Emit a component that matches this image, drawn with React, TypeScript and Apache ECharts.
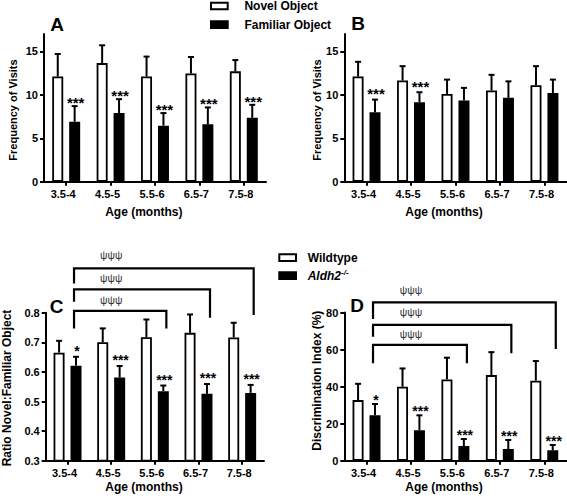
import React, { useEffect, useRef } from "react";
import * as echarts from "echarts";

const FONT = "'Liberation Sans', Arial, Helvetica, sans-serif";

const categories = ["3.5-4", "4.5-5", "5.5-6", "6.5-7", "7.5-8"];

// Panel A
const novelA = [12.1, 13.65, 12.1, 12.45, 12.7];
const novelAErr = [14.7, 15.7, 14.4, 14.35, 14.0];
const famA = [6.9, 7.9, 6.45, 6.6, 7.35];
const famAErr = [8.7, 9.5, 7.9, 8.55, 8.85];
const starsA = ["***", "***", "***", "***", "***"];

// Panel B
const novelB = [12.1, 11.65, 10.1, 10.5, 11.1];
const novelBErr = [13.8, 13.3, 11.75, 12.3, 13.3];
const famB = [8.0, 9.15, 9.35, 9.65, 10.2];
const famBErr = [9.45, 10.3, 10.8, 11.55, 11.75];
const starsB = ["***", "***", "", "", ""];

// Panel C
const wtC = [0.665, 0.7, 0.717, 0.732, 0.716];
const wtCErr = [0.705, 0.747, 0.777, 0.794, 0.766];
const koC = [0.621, 0.581, 0.535, 0.526, 0.529];
const koCErr = [0.651, 0.62, 0.554, 0.559, 0.556];
const starsC = ["*", "***", "***", "***", "***"];

// Panel D
const wtD = [32.7, 39.9, 43.9, 46.2, 43.2];
const wtDErr = [41.5, 49.8, 55.6, 58.6, 53.8];
const koD = [24.6, 16.5, 7.9, 6.3, 5.6];
const koDErr = [30.6, 24.5, 11.7, 11.2, 8.5];
const starsD = ["*", "***", "***", "***", "***"];

// Brackets (from first category to bracketEnd)
const bracketEnd = [4, 3, 2];
const bracketTopC = [0.95, 0.879, 0.806];
const bracketLeftDropC = [0.899, 0.837, 0.747];
const bracketRightDropC = [0.792, 0.783, 0.747];
const psiYC = [0.995, 0.916, 0.843];
const bracketTopD = [85.5, 73.3, 62.5];
const bracketLeftDropD = [76.5, 66.9, 52.6];
const bracketRightDropD = [60.3, 58.0, 52.6];
const psiYD = [92.1, 80.4, 68.2];

const BAR_W = 11;
const BAR_GAP = "54%";
const OFF = 8.45;

function barSeries(g: number, name: string, data: number[], color: string) {
  return {
    type: "bar",
    name,
    xAxisIndex: g,
    yAxisIndex: g,
    data,
    barWidth: BAR_W,
    barGap: BAR_GAP,
    silent: true,
    itemStyle: { color, borderColor: "#000", borderWidth: 1.8 },
  };
}

function errSeries(
  g: number,
  vals: number[],
  errs: number[],
  offset: number,
  stars: string[] | null,
  starOffset: number,
  starSize: number
) {
  return {
    type: "custom",
    name: "err" + g + offset,
    xAxisIndex: g,
    yAxisIndex: g,
    silent: true,
    clip: false,
    z: 3,
    data: vals.map((v, i) => [i, v, errs[i]]),
    encode: { x: 0, y: [1, 2] },
    renderItem: (params: any, api: any) => {
      const i = params.dataIndex;
      const base = api.coord([i, api.value(1)]);
      const top = api.coord([i, api.value(2)]);
      const x = base[0] + offset;
      const children: any[] = [
        {
          type: "line",
          shape: { x1: x, y1: base[1], x2: x, y2: top[1] },
          style: { stroke: "#000", lineWidth: 2 },
        },
        {
          type: "line",
          shape: { x1: x - 3, y1: top[1], x2: x + 3, y2: top[1] },
          style: { stroke: "#000", lineWidth: 2 },
        },
      ];
      if (stars && stars[i]) {
        children.push({
          type: "text",
          x: x + 1,
          y: top[1] - starOffset + 3.75,
          style: {
            text: stars[i],
            fill: "#000",
            fontSize: starSize,
            fontWeight: "bold",
            fontFamily: FONT,
            align: "center",
            verticalAlign: "middle",
            textAlign: "center",
            textVerticalAlign: "middle",
          },
        });
      }
      return { type: "group", children };
    },
  };
}

function bracketSeries(
  g: number,
  tops: number[],
  leftDrops: number[],
  rightDrops: number[],
  psiY: number[]
) {
  return {
    type: "custom",
    name: "brackets" + g,
    xAxisIndex: g,
    yAxisIndex: g,
    silent: true,
    clip: false,
    z: 4,
    data: tops.map((t, k) => [bracketEnd[k], t, leftDrops[k], rightDrops[k], psiY[k]]),
    encode: { x: 0, y: 1 },
    renderItem: (params: any, api: any) => {
      const end = api.value(0);
      const pT = api.coord([0, api.value(1)]);
      const xL = pT[0] + 6.5;
      const xR = api.coord([end, api.value(1)])[0] + 11.5;
      const yT = pT[1];
      const yLd = api.coord([0, api.value(2)])[1];
      const yRd = api.coord([0, api.value(3)])[1];
      const psi = api.coord([1, api.value(4)]);
      return {
        type: "group",
        children: [
          {
            type: "polyline",
            shape: { points: [[xL, yLd], [xL, yT], [xR, yT], [xR, yRd]] },
            style: { stroke: "#000", lineWidth: 2.2, fill: "none" },
          },
          {
            type: "text",
            x: psi[0],
            y: psi[1],
            style: {
              text: "ψψψ",
              fill: "#333",
              fontSize: 10.5,
              fontFamily: FONT,
              align: "center",
              verticalAlign: "middle",
              textAlign: "center",
              textVerticalAlign: "middle",
            },
          },
        ],
      };
    },
  };
}

const axisLineStyle = { color: "#000", width: 2 };
const labelStyle = { color: "#000", fontWeight: "bold", fontSize: 11, fontFamily: FONT };

function xAxis(g: number) {
  return {
    type: "category",
    gridIndex: g,
    data: categories,
    axisLine: { show: true, lineStyle: axisLineStyle },
    axisTick: { show: true, alignWithLabel: true, length: 4, lineStyle: axisLineStyle },
    axisLabel: { ...labelStyle, margin: 7, padding: [0, 6, 0, 0] },
    splitLine: { show: false },
  };
}

function yAxis(
  g: number,
  min: number,
  max: number,
  interval: number,
  showMax: boolean,
  fmt?: (v: number) => string
) {
  return {
    type: "value",
    gridIndex: g,
    min,
    max,
    interval,
    axisLine: { show: true, lineStyle: axisLineStyle },
    axisTick: { show: true, length: 4, lineStyle: axisLineStyle },
    axisLabel: { ...labelStyle, margin: 6, formatter: fmt, showMaxLabel: showMax },
    splitLine: { show: false },
  };
}

function txt(text: string, x: number, y: number, size: number, rotate = false, extra: any = {}) {
  return {
    type: "text",
    x,
    y,
    rotation: rotate ? Math.PI / 2 : 0,
    style: {
      text,
      fill: "#000",
      fontSize: size,
      fontWeight: "bold",
      fontFamily: FONT,
      align: "center",
      verticalAlign: "middle",
      textAlign: "center",
      textVerticalAlign: "middle",
      ...extra,
    },
  };
}

export default function App() {
  const ref = useRef<HTMLDivElement>(null);
  useEffect(() => {
    document.body.style.margin = "0";
    if (!ref.current) return;
    const chart = echarts.init(ref.current, null, { renderer: "svg" });
    const option: any = {
      animation: false,
      backgroundColor: "#fff",
      textStyle: { fontFamily: FONT },
      grid: [
        { left: 44, top: 34, width: 222, height: 147.7 },
        { left: 344.3, top: 34, width: 222.4, height: 147.7 },
        { left: 45.7, top: 312.7, width: 218.3, height: 148 },
        { left: 344.3, top: 312.5, width: 222.2, height: 148.2 },
      ],
      xAxis: [xAxis(0), xAxis(1), xAxis(2), xAxis(3)],
      yAxis: [
        yAxis(0, 0, 17, 5, false),
        yAxis(1, 0, 17, 5, false),
        yAxis(2, 0.3, 0.8, 0.1, true, (v: number) => v.toFixed(1)),
        yAxis(3, 0, 80, 20, true),
      ],
      legend: [
        {
          orient: "vertical",
          left: 210,
          top: 0,
          padding: 0,
          itemWidth: 16.7,
          itemHeight: 6.7,
          itemGap: 6.7,
          icon: "rect",
          selectedMode: false,
          data: ["Novel Object", "Familiar Object"],
          textStyle: {
            color: "#000",
            fontSize: 12,
            fontWeight: "bold",
            fontFamily: FONT,
            lineHeight: 10,
            padding: [0, 0, 0, 11.7],
          },
        },
        {
          orient: "vertical",
          left: 278.3,
          top: 251.7,
          padding: 0,
          itemWidth: 16.7,
          itemHeight: 6.7,
          itemGap: 5,
          icon: "rect",
          selectedMode: false,
          data: ["Wildtype", "Aldh2-/-"],
          formatter: (name: string) =>
            name === "Wildtype" ? "{n|Wildtype}" : "{i|Aldh2}{s|-/-}",
          textStyle: {
            color: "#000",
            fontSize: 12,
            fontWeight: "bold",
            fontFamily: FONT,
            lineHeight: 10,
            padding: [0, 0, 0, 6.7],
            rich: {
              n: { fontSize: 12, fontWeight: "bold", fontFamily: FONT, color: "#000", lineHeight: 10 },
              i: {
                fontSize: 12,
                fontWeight: "bold",
                fontStyle: "italic",
                fontFamily: FONT,
                color: "#000",
                lineHeight: 10,
              },
              s: {
                fontSize: 8,
                fontWeight: "bold",
                fontStyle: "italic",
                fontFamily: FONT,
                color: "#000",
                lineHeight: 10,
                padding: [0, 0, 6, 0],
              },
            },
          },
        },
      ],
      series: [
        barSeries(0, "Novel Object", novelA, "#fff"),
        barSeries(0, "Familiar Object", famA, "#000"),
        barSeries(1, "Novel Object", novelB, "#fff"),
        barSeries(1, "Familiar Object", famB, "#000"),
        barSeries(2, "Wildtype", wtC, "#fff"),
        barSeries(2, "Aldh2-/-", koC, "#000"),
        barSeries(3, "Wildtype", wtD, "#fff"),
        barSeries(3, "Aldh2-/-", koD, "#000"),
        errSeries(0, novelA, novelAErr, -OFF, null, 0, 15),
        errSeries(0, famA, famAErr, OFF, starsA, 7.5, 15),
        errSeries(1, novelB, novelBErr, -OFF, null, 0, 15),
        errSeries(1, famB, famBErr, OFF, starsB, 9.5, 15),
        errSeries(2, wtC, wtCErr, -OFF, null, 0, 14),
        errSeries(2, koC, koCErr, OFF, starsC, 9.3, 14),
        errSeries(3, wtD, wtDErr, -OFF, null, 0, 14),
        errSeries(3, koD, koDErr, OFF, starsD, 7.8, 14),
        bracketSeries(2, bracketTopC, bracketLeftDropC, bracketRightDropC, psiYC),
        bracketSeries(3, bracketTopD, bracketLeftDropD, bracketRightDropD, psiYD),
      ],
      graphic: [
        txt("A", 57, 24, 19),
        txt("B", 358, 23, 19),
        txt("C", 56.7, 306.7, 19),
        txt("D", 357, 305, 19),
        txt("Frequency of Visits", 13.3, 110, 11, true),
        txt("Frequency of Visits", 316.7, 110, 11, true),
        txt("Ratio Novel:Familiar Object", 7, 388, 12, true),
        txt("Discrimination Index (%)", 316.7, 380.7, 12, true),
        txt("Age (months)", 143.8, 211.7, 12),
        txt("Age (months)", 444, 211.7, 12),
        txt("Age (months)", 144, 487, 12),
        txt("Age (months)", 444, 487, 12),
      ],
    };
    chart.setOption(option);
    return () => chart.dispose();
  }, []);
  return <div ref={ref} style={{ width: 567, height: 499 }} />;
}
